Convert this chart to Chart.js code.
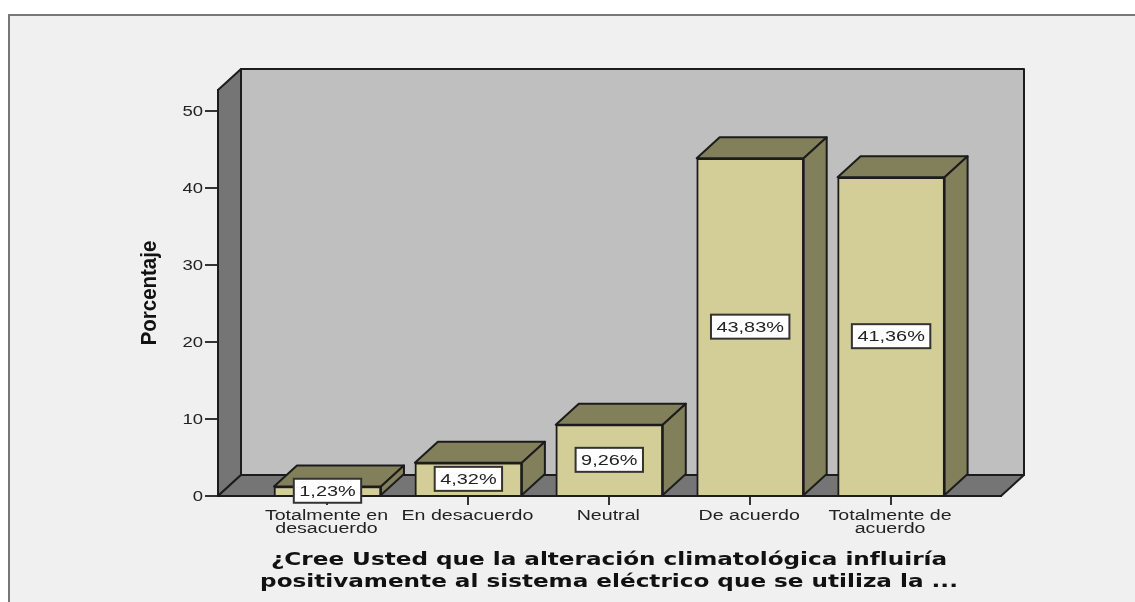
<!DOCTYPE html>
<html lang="es">
<head>
<meta charset="UTF-8">
<title>Porcentaje</title>
<script src="https://cdn.jsdelivr.net/npm/chart.js"></script>
<style>
  html, body { margin: 0; padding: 0; background: #fff; overflow: hidden; }
  .panel { position: absolute; left: 8px; top: 14px; width: 1127px; height: 588px;
           box-sizing: border-box; background: #f0f0f0;
           border-top: 2px solid #777; border-left: 2px solid #777; }
  canvas { position: absolute; left: 0; top: 0; }
</style>
</head>
<body>
<div class="panel"></div>
<div style="position:absolute;left:0;top:0;width:1135px;height:602px">
  <canvas id="myChart" width="1135" height="602"></canvas>
</div>
<script>
const categories = [['Totalmente en', 'desacuerdo'], ['En desacuerdo'], ['Neutral'], ['De acuerdo'], ['Totalmente de', 'acuerdo']];
const porcentajes = [1.23, 4.32, 9.26, 43.83, 41.36];
const yTicks = [0, 10, 20, 30, 40, 50];
const yTitle = 'Porcentaje';
const xTitle = ['¿Cree Usted que la alteración climatológica influiría', 'positivamente al sistema eléctrico que se utiliza la ...'];

const DEPTH_X = 23, DEPTH_Y = 21;
const INK = '#1c1c1c';

function poly(ctx, pts, fill) {
  ctx.beginPath();
  pts.forEach((p, i) => i ? ctx.lineTo(p[0], p[1]) : ctx.moveTo(p[0], p[1]));
  ctx.closePath();
  ctx.fillStyle = fill;
  ctx.fill();
  ctx.lineWidth = 2;
  ctx.strokeStyle = INK;
  ctx.lineJoin = 'round';
  ctx.stroke();
}

// the reference text is stretched sideways, so scale it along x
function wideText(ctx, text, x, y, font, sx, color, align) {
  ctx.save();
  ctx.font = font;
  ctx.fillStyle = color;
  ctx.textAlign = align || 'center';
  ctx.textBaseline = 'middle';
  ctx.translate(x, y);
  ctx.scale(sx, 1);
  ctx.fillText(text, 0, 0);
  ctx.restore();
}

const caja3d = {
  id: 'caja3d',
  beforeDatasetsDraw(chart) {
    const ctx = chart.ctx, a = chart.chartArea;
    const dx = DEPTH_X, dy = DEPTH_Y;
    ctx.save();
    poly(ctx, [[a.left + dx, a.top - dy], [a.right + dx, a.top - dy], [a.right + dx, a.bottom - dy], [a.left + dx, a.bottom - dy]], '#bfbfbf');
    poly(ctx, [[a.left, a.top], [a.left + dx, a.top - dy], [a.left + dx, a.bottom - dy], [a.left, a.bottom]], '#757575');
    poly(ctx, [[a.left, a.bottom], [a.left + dx, a.bottom - dy], [a.right + dx, a.bottom - dy], [a.right, a.bottom]], '#757575');
    // top and side of every bar
    chart.getDatasetMeta(0).data.forEach(bar => {
      const l = bar.x - bar.width / 2, r = bar.x + bar.width / 2;
      poly(ctx, [[l, bar.y], [l + dx, bar.y - dy], [r + dx, bar.y - dy], [r, bar.y]], '#827f5b');
      poly(ctx, [[r, bar.y], [r + dx, bar.y - dy], [r + dx, bar.base - dy], [r, bar.base]], '#827f5b');
    });
    ctx.restore();
  },
  afterDatasetsDraw(chart) {
    const ctx = chart.ctx;
    const sx = 1.42;
    chart.getDatasetMeta(0).data.forEach((bar, i) => {
      const txt = porcentajes[i].toFixed(2).replace('.', ',') + '%';
      ctx.save();
      ctx.font = '14px "Liberation Sans"';
      const w = ctx.measureText(txt).width * sx + 11, h = 24;
      const cy = (bar.y + bar.base) / 2;
      ctx.fillStyle = '#fff';
      ctx.strokeStyle = '#333';
      ctx.lineWidth = 2;
      ctx.fillRect(bar.x - w / 2, cy - h / 2, w, h);
      ctx.strokeRect(bar.x - w / 2, cy - h / 2, w, h);
      ctx.restore();
      wideText(ctx, txt, bar.x, cy + 1, '14px "Liberation Sans"', sx, '#222');
    });
  },
  afterDraw(chart) {
    const ctx = chart.ctx, xs = chart.scales.x, ys = chart.scales.y;
    yTicks.forEach(t => {
      wideText(ctx, String(t), 203, ys.getPixelForValue(t) + 1, '14px "Liberation Sans"', 1.32, '#222', 'right');
    });
    categories.forEach((lines, i) => {
      lines.forEach((line, j) => {
        wideText(ctx, line, xs.getPixelForValue(i) - 1, 516 + j * 13.5, '14px "Liberation Sans"', 1.4, '#222');
      });
    });
    xTitle.forEach((line, j) => {
      wideText(ctx, line, 609, 561 + j * 22, 'bold 17px "DejaVu Sans"', 1.36, '#111');
    });
    ctx.save();
    ctx.translate(150, 293);
    ctx.rotate(-Math.PI / 2);
    wideText(ctx, yTitle, 0, 0, 'bold 22px "Liberation Sans"', 0.93, '#111');
    ctx.restore();
  }
};

new Chart(document.getElementById('myChart').getContext('2d'), {
  type: 'bar',
  data: {
    datasets: [{
      data: porcentajes.map((v, i) => ({ x: i, y: v })),
      backgroundColor: '#d3ce97',
      borderColor: INK,
      borderWidth: 2,
      barThickness: 107
    }]
  },
  options: {
    responsive: false,
    animation: false,
    layout: { padding: { top: 90, right: 134, left: 0, bottom: 0 } },
    plugins: { legend: { display: false }, tooltip: { enabled: false } },
    scales: {
      x: {
        type: 'linear',
        offset: false,
        min: -0.777,
        max: 4.78,
        afterBuildTicks: s => { s.ticks = categories.map((c, i) => ({ value: i })); },
        afterFit: s => { s.height = 106; },
        ticks: { display: false },
        grid: { offset: false, drawOnChartArea: false, drawTicks: true, tickLength: 9, color: '#333', lineWidth: 2 },
        border: { display: true, color: INK, width: 2 }
      },
      y: {
        min: 0,
        max: 52.7,
        afterBuildTicks: s => { s.ticks = yTicks.map(v => ({ value: v })); },
        afterFit: s => { s.width = 218; },
        ticks: { display: false },
        grid: { drawOnChartArea: false, drawTicks: true, tickLength: 13, color: '#333', lineWidth: 2 },
        border: { display: true, color: INK, width: 2 }
      }
    }
  },
  plugins: [caja3d]
});
</script>
</body>
</html>
